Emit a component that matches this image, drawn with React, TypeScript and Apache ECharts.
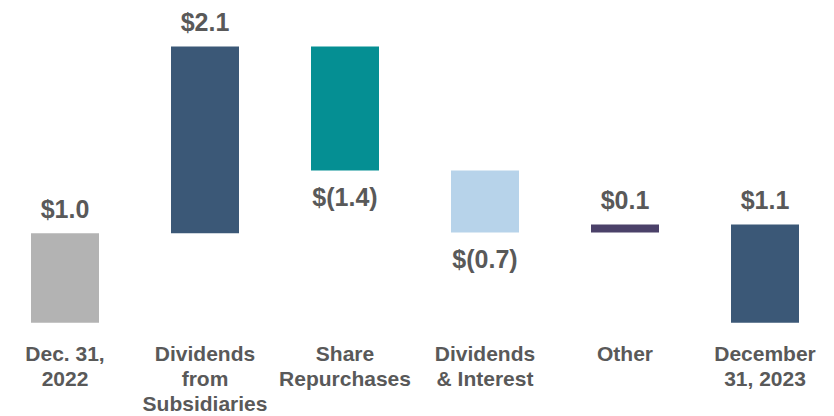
import React, { useEffect, useRef } from "react";
import * as echarts from "echarts";

const categories = [
  "Dec. 31,\n2022",
  "Dividends\nfrom\nSubsidiaries",
  "Share\nRepurchases",
  "Dividends\n& Interest",
  "Other",
  "December\n31, 2023",
];
const startValue = 1.01;
const changes = [2.11, -1.4, -0.7, 0.09];
const endValue = 1.11;
const valueLabels = ["$1.0", "$2.1", "$(1.4)", "$(0.7)", "$0.1", "$1.1"];
const barColors = ["#b3b3b3", "#3b5877", "#058f93", "#b7d3ea", "#4b4169", "#3b5877"];

export default function App() {
  const ref = useRef<HTMLDivElement>(null);
  useEffect(() => {
    if (!ref.current) return;
    const chart = echarts.init(ref.current, null, { renderer: "svg" });

    const bases: number[] = [0];
    const heights: number[] = [startValue];
    const positions: string[] = ["top"];
    let running = startValue;
    changes.forEach((d) => {
      if (d >= 0) {
        bases.push(running);
        heights.push(d);
        positions.push("top");
      } else {
        bases.push(running + d);
        heights.push(-d);
        positions.push("bottom");
      }
      running += d;
    });
    bases.push(0);
    heights.push(endValue);
    positions.push("top");

    const textColor = "#595959";
    const font = "'Liberation Sans', Arial, sans-serif";

    chart.setOption({
      animation: false,
      grid: { left: 0, right: 0, top: 13, bottom: 93.3 },
      xAxis: {
        type: "category",
        data: categories,
        axisLine: { show: false },
        axisTick: { show: false },
        axisLabel: {
          interval: 0,
          color: textColor,
          fontSize: 21,
          fontWeight: "bold",
          fontFamily: font,
          lineHeight: 25,
          margin: 18,
          verticalAlign: "top",
        },
      },
      yAxis: { type: "value", min: 0, max: 3.5, show: false },
      series: [
        {
          type: "bar",
          stack: "w",
          data: bases,
          itemStyle: { color: "transparent" },
          barWidth: 68,
          silent: true,
        },
        {
          type: "bar",
          stack: "w",
          barWidth: 68,
          data: heights.map((h, i) => ({
            value: h,
            itemStyle: { color: barColors[i] },
            label: {
              show: true,
              position: positions[i],
              distance: positions[i] === "top" ? 12 : 14,
              formatter: valueLabels[i],
              color: textColor,
              fontSize: 25,
              fontWeight: "bold",
              fontFamily: font,
              lineHeight: 25,
            },
          })),
        },
      ],
    });
    return () => chart.dispose();
  }, []);
  return (
    <div
      ref={ref}
      style={{ position: "absolute", left: -5, top: 0, width: 840, height: 416 }}
    />
  );
}
